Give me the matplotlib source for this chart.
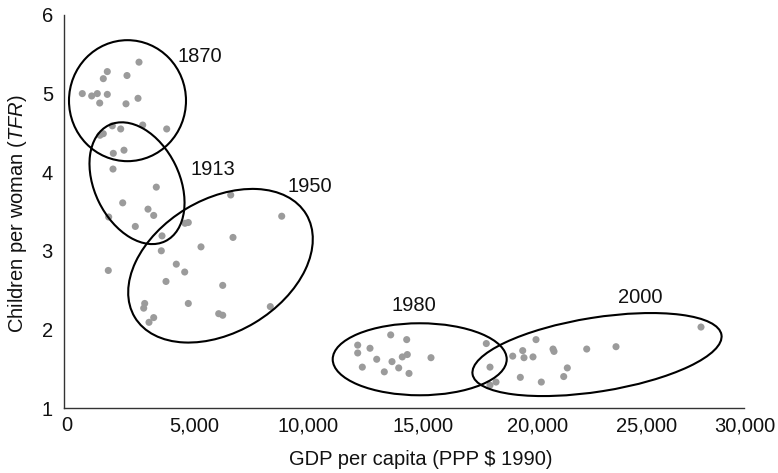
import matplotlib
matplotlib.use('Agg')
import matplotlib.pyplot as plt
from matplotlib.patches import Ellipse
from matplotlib.transforms import ScaledTranslation

plt.rcParams['font.family'] = ['Liberation Sans', 'DejaVu Sans']
plt.rcParams['mathtext.fontset'] = 'custom'
plt.rcParams['mathtext.rm'] = 'Liberation Sans'
plt.rcParams['mathtext.it'] = 'Liberation Sans:italic'

# GDP per capita (PPP $ 1990) and children per woman, by benchmark year
gdp_1870 = [3309, 1910, 2779, 1734, 807, 1222, 1469, 1910, 1575, 2735, 3265,
            3472, 4531, 2131, 2501]
tfr_1870 = [5.40, 5.28, 5.23, 5.19, 5.00, 4.97, 5.00, 4.99, 4.88, 4.87, 4.94,
            4.60, 4.55, 4.59, 4.55]

gdp_1913 = [1588, 1734, 2175, 2647, 2162, 4072, 2590, 3706, 3957, 1972, 3146, 4324]
tfr_1913 = [4.47, 4.49, 4.24, 4.28, 4.04, 3.81, 3.61, 3.53, 3.45, 3.43, 3.31, 3.19]

gdp_1950 = [1954, 7355, 9605, 5338, 5484, 7456, 4293, 6044, 4954, 5325, 4500,
            7002, 3560, 3516, 5484, 3957, 3750, 6825, 7002, 9102]
tfr_1950 = [2.75, 3.71, 3.44, 3.35, 3.36, 3.17, 3.00, 3.05, 2.83, 2.73, 2.61,
            2.56, 2.33, 2.27, 2.33, 2.15, 2.09, 2.20, 2.18, 2.29]

gdp_1980 = [14413, 15119, 12957, 13500, 12957, 13796, 14471, 14925, 15146, 16191,
            13161, 14131, 14766, 15221, 18631, 18794]
tfr_1980 = [1.93, 1.87, 1.80, 1.76, 1.70, 1.62, 1.59, 1.65, 1.68, 1.64,
            1.52, 1.46, 1.51, 1.44, 1.82, 1.52]

gdp_2000 = [18794, 19059, 19796, 20237, 20294, 20691, 20824, 21574, 21618, 23061,
            24353, 28103, 20132, 21058, 22046, 22205]
tfr_2000 = [1.29, 1.33, 1.66, 1.73, 1.64, 1.65, 1.87, 1.75, 1.72, 1.75,
            1.78, 2.03, 1.39, 1.33, 1.40, 1.51]

years = ['1870', '1913', '1950', '1980', '2000']
series = [(gdp_1870, tfr_1870), (gdp_1913, tfr_1913), (gdp_1950, tfr_1950),
          (gdp_1980, tfr_1980), (gdp_2000, tfr_2000)]

# ellipse centre (data), width/height in pixels, rotation in degrees
ellipses = [(2801, 4.91, 117, 121, 0), (3221, 3.86, 85, 129, 26),
            (6904, 2.81, 200, 133, 31), (15693, 1.62, 174, 72, 0),
            (23515, 1.68, 252, 74, 9)]
label_pos = [(6000, 5.47), (6551, 4.03), (10853, 3.82), (15419, 2.30), (25412, 2.41)]

x_ticks = [0, 5000, 10000, 15000, 20000, 25000, 30000]
x_tick_shift = [3, 17, 17, 19, 20, 16, 1]  # pixels
y_ticks = [1, 2, 3, 4, 5, 6]

fig = plt.figure(figsize=(7.78, 4.73), dpi=100)
ax = fig.add_axes([64 / 778, 65 / 473, 680 / 778, 393 / 473])

for (gx, ty) in series:
    ax.scatter(gx, ty, s=26, color='#9b9b9b', edgecolors='none', zorder=2)

for (cx, cy, w, h, ang) in ellipses:
    tr = fig.dpi_scale_trans + ScaledTranslation(cx, cy, ax.transData)
    ax.add_patch(Ellipse((0, 0), w / 100, h / 100, angle=ang, transform=tr,
                         fill=False, edgecolor='black', linewidth=1.5, zorder=3))

for yr, (lx, ly) in zip(years, label_pos):
    ax.text(lx, ly, yr, ha='center', va='center', fontsize=14.5, color='#111111')

ax.set_xlim(0, 30000)
ax.set_ylim(1, 6)
ax.set_xticks(x_ticks)
ax.set_xticklabels([f'{v:,}' for v in x_ticks])
ax.set_yticks(y_ticks)
ax.tick_params(length=0, labelsize=14.5, labelcolor='#111111')
ax.tick_params(axis='x', pad=6)
ax.tick_params(axis='y', pad=8)
for lab, dx in zip(ax.get_xticklabels(), x_tick_shift):
    lab.set_transform(lab.get_transform() + ScaledTranslation(dx / 100, 0, fig.dpi_scale_trans))

for side in ['top', 'right']:
    ax.spines[side].set_visible(False)
for side in ['left', 'bottom']:
    ax.spines[side].set_color('#333333')
    ax.spines[side].set_linewidth(1.0)

ax.set_xlabel('GDP per capita (PPP $ 1990)', fontsize=14.5, color='#111111')
ax.set_ylabel(r'Children per woman ($\mathit{TFR}$)', fontsize=14.5, color='#111111')
ax.xaxis.label.set_va('center')
ax.yaxis.label.set_va('center')
ax.xaxis.set_label_coords((421 - 64) / 680, (408 - 459) / 393)
ax.yaxis.set_label_coords((18 - 64) / 680, (408 - 213.5) / 393)

fig.savefig('out.png', dpi=100)
